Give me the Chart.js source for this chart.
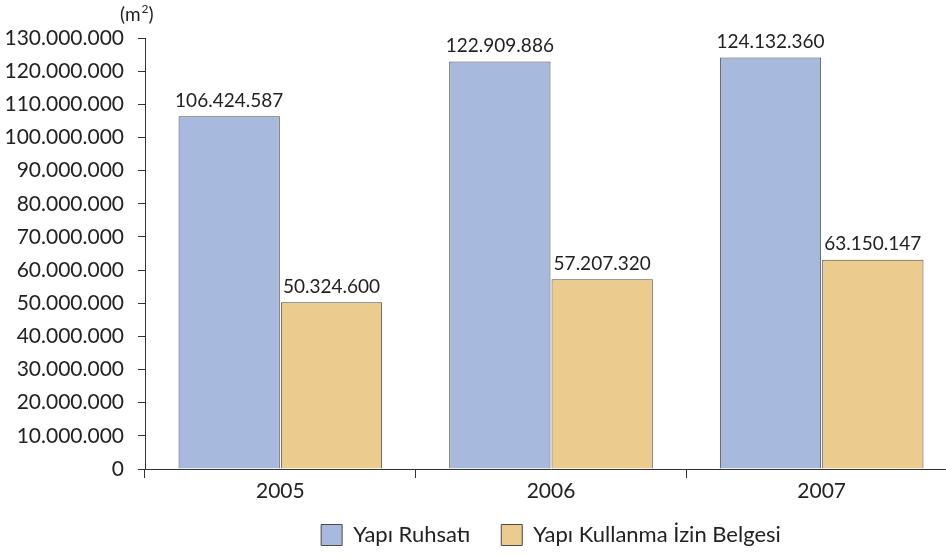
<!DOCTYPE html>
<html>
<head>
<meta charset="utf-8">
<script src="https://cdn.jsdelivr.net/npm/chart.js@4/dist/chart.umd.min.js"></script>
<style>
  html, body { margin: 0; padding: 0; background: #fff; overflow: hidden; }
  #wrap { width: 957px; height: 556px; }
</style>
</head>
<body>
<div id="wrap"><canvas id="barChart"></canvas></div>
<script>
const years = ["2005", "2006", "2007"]
const ruhsat = [106424587, 122909886, 124132360]
const kullanma = [50324600, 57207320, 63150147]
const yTicks = [0, 130000000, 10000000]

const fmt = (v) => v.toString().replace(/\B(?=(\d{3})+(?!\d))/g, ".")

const fontFam = "'Lato', 'Open Sans', sans-serif"

// etiketler barlarin ustune
const valueLabels = {
  id: "valueLabels",
  afterDatasetsDraw(chart) {
    const ctx = chart.ctx
    ctx.save()
    ctx.font = "19px " + fontFam
    ctx.fillStyle = "#222"
    ctx.textAlign = "center"
    ctx.textBaseline = "bottom"
    chart.data.datasets.forEach((ds, i) => {
      chart.getDatasetMeta(i).data.forEach((bar, j) => {
        ctx.fillText(fmt(ds.data[j]), bar.x, bar.y - 6)
      })
    })
    // birim (m2)
    const y = chart.scales.y
    ctx.textAlign = "left"
    ctx.textBaseline = "alphabetic"
    let x0 = y.right - 25
    let base = y.top - 17
    ctx.font = "19px " + fontFam
    ctx.fillText("(m", x0, base)
    x0 += ctx.measureText("(m").width
    ctx.font = "12px " + fontFam
    ctx.fillText("2", x0 + 1, base - 8)
    x0 += ctx.measureText("2").width + 1
    ctx.font = "19px " + fontFam
    ctx.fillText(")", x0, base)
    ctx.restore()
  }
}

const data = {
  labels: years,
  datasets: [
    {
      label: "Yapı Ruhsatı   ",
      data: ruhsat,
      backgroundColor: "#A7BADD",
      borderColor: "#4a4a4a",
      borderWidth: 1
    },
    {
      label: "Yapı Kullanma İzin Belgesi",
      data: kullanma,
      backgroundColor: "#EBCB8E",
      borderColor: "#4a4a4a",
      borderWidth: 1
    }
  ]
}

const config = {
  type: "bar",
  data: data,
  plugins: [valueLabels],
  options: {
    responsive: true,
    maintainAspectRatio: false,
    animation: false,
    layout: {
      padding: { top: 38, right: 0, left: 0, bottom: 0 }
    },
    datasets: {
      bar: { categoryPercentage: 0.756, barPercentage: 0.99 }
    },
    plugins: {
      legend: {
        position: "bottom",
        fullSize: false,
        labels: {
          boxWidth: 21,
          boxHeight: 21,
          padding: 14,
          color: "#222",
          font: { family: fontFam, size: 22 }
        }
      },
      tooltip: { enabled: false }
    },
    scales: {
      x: {
        offset: true,
        border: { color: "#333", width: 1 },
        grid: { display: true, offset: true, drawOnChartArea: false, tickLength: 9, color: "#333" },
        ticks: { color: "#222", padding: 1, font: { family: fontFam, size: 21 } },
        afterFit: (s) => { s.height = 41 }
      },
      y: {
        min: yTicks[0],
        max: yTicks[1],
        border: { color: "#333", width: 1 },
        grid: { display: true, drawOnChartArea: false, tickLength: 7, color: "#333" },
        ticks: {
          stepSize: yTicks[2],
          color: "#222",
          padding: 14,
          font: { family: fontFam, size: 21 },
          callback: (v) => fmt(v)
        },
        afterFit: (s) => { s.width = 145 }
      }
    }
  }
}

const myChart = new Chart(document.getElementById("barChart"), config)
</script>
</body>
</html>
